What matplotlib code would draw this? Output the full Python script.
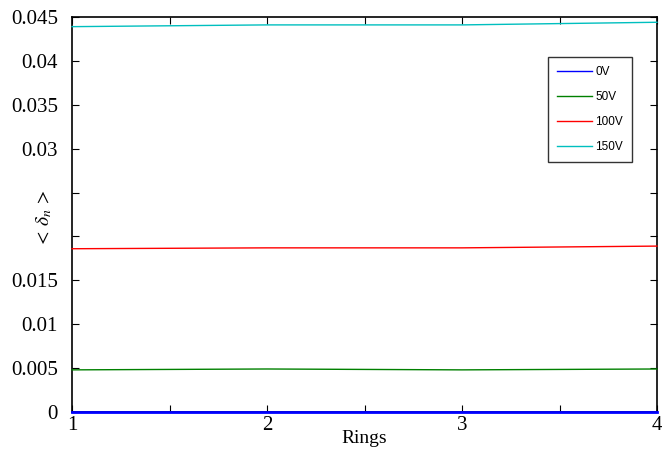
import matplotlib
matplotlib.use("Agg")
import matplotlib.pyplot as plt

plt.rcParams["mathtext.fontset"] = "stix"

rings = [1, 2, 3, 4]
v0 = [0.0, 0.0, 0.0, 0.0]
v50 = [0.0048, 0.0049, 0.0048, 0.0049]
v100 = [0.0186, 0.0187, 0.0187, 0.0189]
v150 = [0.0439, 0.0441, 0.0441, 0.0444]
labels = ["0V", "50V", "100V", "150V"]
colors = ["#0000ff", "#008000", "#ff0000", "#00bfbf"]

xticks = [1, 1.5, 2, 2.5, 3, 3.5, 4]
xticklabels = ["1", "", "2", "", "3", "", "4"]
yticks = [0, 0.005, 0.01, 0.015, 0.02, 0.025, 0.03, 0.035, 0.04, 0.045]
yticklabels = ["0", "0.005", "0.01", "0.015", "", "", "0.03", "0.035", "0.04", "0.045"]

fig = plt.figure(figsize=(6.62, 4.51), dpi=100)
ax = fig.add_axes([72/662, 1-412/451, (657-72)/662, (412-17)/451])

series = [v0, v50, v100, v150]
for s, lab, c in zip(series, labels, colors):
    lw = 2.0 if lab == "0V" else 1.0
    ax.plot(rings, s, color=c, lw=lw, label=lab, zorder=3, clip_on=False)

ax.set_xlim(1, 4)
ax.set_ylim(0, 0.045)
ax.set_xticks(xticks)
ax.set_xticklabels(xticklabels)
ax.set_yticks(yticks)
ax.set_yticklabels(yticklabels)
serif = "Liberation Serif"
for t in ax.get_xticklabels() + ax.get_yticklabels():
    t.set_fontfamily(serif)
    t.set_fontsize(15)
ax.tick_params(direction="in", top=True, right=True, length=5, width=0.8)
ax.tick_params(axis="y", pad=10)
ax.tick_params(axis="x", pad=3)
for sp in ax.spines.values():
    sp.set_linewidth(1.2)

ax.set_xlabel("Rings", fontfamily=serif, fontsize=14, labelpad=-4)
ax.set_ylabel(r"$<\,\delta_n\,>$", fontsize=14)
ax.yaxis.set_label_coords(-0.03, 0.49)

leg = ax.legend(loc="upper right", bbox_to_anchor=(632/662, 1-57/451), bbox_transform=fig.transFigure,
                prop={"family": "Liberation Sans", "size": 8.5}, frameon=True, fancybox=False,
                edgecolor="black", handlelength=3.0, labelspacing=1.1, borderpad=0.75,
                handletextpad=0.25, borderaxespad=0)
leg.get_frame().set_linewidth(1.0)
for line in leg.get_lines():
    line.set_linewidth(1.0)

fig.savefig("out.png", dpi=100)
